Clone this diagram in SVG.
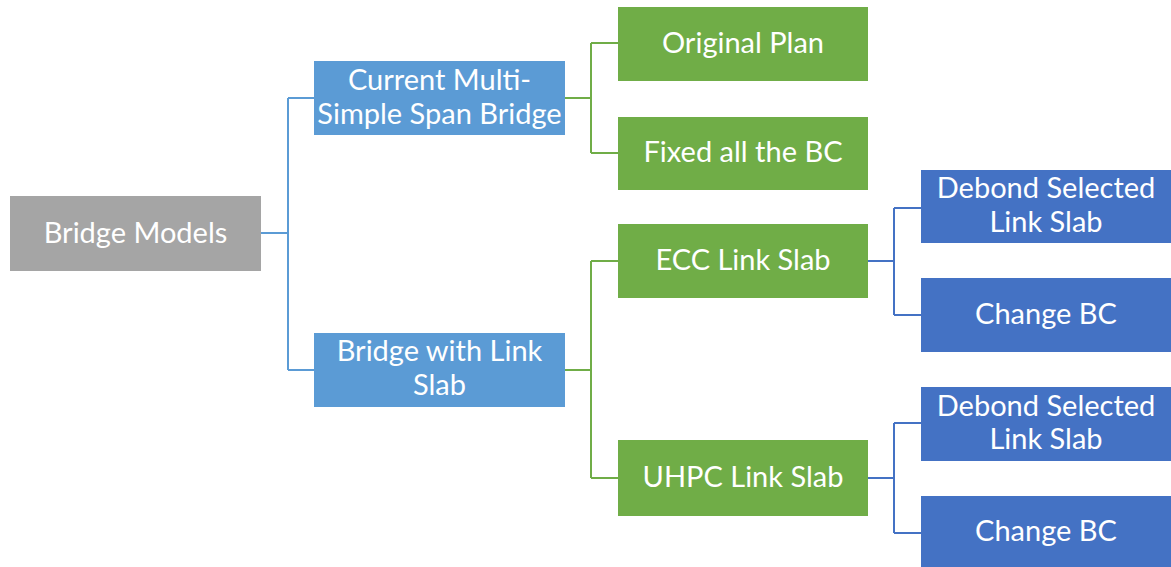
<svg xmlns="http://www.w3.org/2000/svg" width="1171" height="567" viewBox="0 0 1171 567">
  <style>
    .lbl { font-family: Lato, "Open Sans", sans-serif; font-size: 29px; fill: #ffffff; text-anchor: middle; }
    .gray { fill: #a5a5a5; }
    .lblue { fill: #5b9bd5; }
    .green { fill: #70ad47; }
    .dblue { fill: #4472c4; }
    .c-lblue { stroke: #5b9bd5; }
    .c-green { stroke: #70ad47; }
    .c-dblue { stroke: #4472c4; }
    #connectors path { fill: none; stroke-width: 2; }
  </style>
  <rect width="1171" height="567" fill="#ffffff"/>

  <g id="connectors">
    <path class="c-lblue" d="M261,233 H288 M288,98 V370 M288,98 H314 M288,370 H314"/>
    <path class="c-green" d="M565,98 H591 M591,43 V153 M591,43 H618 M591,153 H618"/>
    <path class="c-green" d="M565,370 H591 M591,261 V478 M591,261 H618 M591,478 H618"/>
    <path class="c-dblue" d="M868,261 H894 M894,208 V315 M894,208 H921 M894,315 H921"/>
    <path class="c-dblue" d="M868,478 H894 M894,423 V533 M894,423 H921 M894,533 H921"/>
  </g>

  <g id="bridge-models">
    <rect class="gray" x="10" y="196" width="251" height="75"/>
    <text class="lbl" x="135.5" y="243">Bridge Models</text>
  </g>

  <g id="current-multi-simple">
    <rect class="lblue" x="314" y="61" width="251" height="74"/>
    <text class="lbl" x="439.5" y="90">Current Multi-</text>
    <text class="lbl" x="439.5" y="124">Simple Span Bridge</text>
  </g>

  <g id="bridge-link-slab">
    <rect class="lblue" x="314" y="333" width="251" height="74"/>
    <text class="lbl" x="439.5" y="361">Bridge with Link</text>
    <text class="lbl" x="439.5" y="395">Slab</text>
  </g>

  <g id="original-plan">
    <rect class="green" x="618" y="7" width="250" height="74"/>
    <text class="lbl" x="743" y="53">Original Plan</text>
  </g>

  <g id="fixed-bc">
    <rect class="green" x="618" y="117" width="250" height="73"/>
    <text class="lbl" x="743" y="162">Fixed all the BC</text>
  </g>

  <g id="ecc-link-slab">
    <rect class="green" x="618" y="224" width="250" height="74"/>
    <text class="lbl" x="743" y="270">ECC Link Slab</text>
  </g>

  <g id="uhpc-link-slab">
    <rect class="green" x="618" y="440" width="250" height="76"/>
    <text class="lbl" x="743" y="487">UHPC Link Slab</text>
  </g>

  <g id="ecc-debond">
    <rect class="dblue" x="921" y="170" width="250" height="73"/>
    <text class="lbl" x="1046" y="198">Debond Selected</text>
    <text class="lbl" x="1046" y="232">Link Slab</text>
  </g>

  <g id="ecc-change-bc">
    <rect class="dblue" x="921" y="278" width="250" height="74"/>
    <text class="lbl" x="1046" y="324">Change BC</text>
  </g>

  <g id="uhpc-debond">
    <rect class="dblue" x="921" y="387" width="250" height="74"/>
    <text class="lbl" x="1046" y="416">Debond Selected</text>
    <text class="lbl" x="1046" y="449">Link Slab</text>
  </g>

  <g id="uhpc-change-bc">
    <rect class="dblue" x="921" y="496" width="250" height="71"/>
    <text class="lbl" x="1046" y="541">Change BC</text>
  </g>
</svg>
